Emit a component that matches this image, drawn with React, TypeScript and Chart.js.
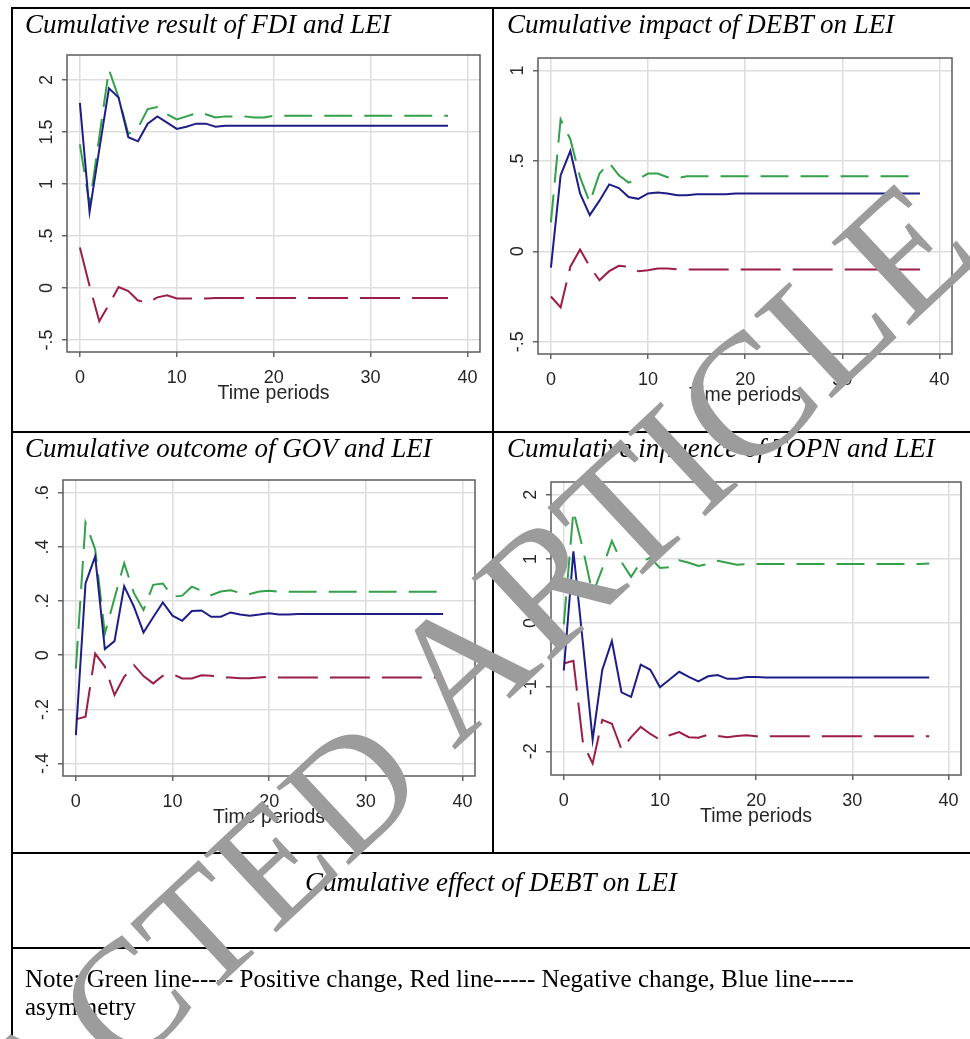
import React, { useEffect, useRef } from 'react';
import { Chart, registerables } from 'chart.js';

Chart.register(...registerables);

// ---------------- data ----------------
const periods = [0, 1, 2, 3, 4, 5, 6, 7, 8, 9, 10, 11, 12, 13, 14, 15, 16, 17, 18, 19, 20, 21, 22, 23, 24, 25, 26, 27, 28, 29, 30, 31, 32, 33, 34, 35, 36, 37, 38];
const xTickValues = [0, 10, 20, 30, 40];

// FDI and LEI
const fdiAsym = [1.78, 0.73, 1.33, 1.92, 1.83, 1.45, 1.41, 1.58, 1.65, 1.59, 1.53, 1.55, 1.58, 1.58, 1.55, 1.56, 1.56, 1.56, 1.56, 1.56, 1.56, 1.56, 1.56, 1.56, 1.56, 1.56, 1.56, 1.56, 1.56, 1.56, 1.56, 1.56, 1.56, 1.56, 1.56, 1.56, 1.56, 1.56, 1.56];
const fdiPos = [1.38, 0.8, 1.45, 2.1, 1.83, 1.48, 1.54, 1.72, 1.74, 1.67, 1.62, 1.65, 1.68, 1.67, 1.64, 1.65, 1.65, 1.65, 1.64, 1.64, 1.655, 1.655, 1.655, 1.655, 1.655, 1.655, 1.655, 1.655, 1.655, 1.655, 1.655, 1.655, 1.655, 1.655, 1.655, 1.655, 1.655, 1.655, 1.655];
const fdiNeg = [0.39, 0.02, -0.32, -0.16, 0.01, -0.03, -0.12, -0.14, -0.09, -0.07, -0.1, -0.1, -0.1, -0.1, -0.095, -0.095, -0.095, -0.095, -0.095, -0.095, -0.095, -0.095, -0.095, -0.095, -0.095, -0.095, -0.095, -0.095, -0.095, -0.095, -0.095, -0.095, -0.095, -0.095, -0.095, -0.095, -0.095, -0.095, -0.095];
const fdiYTicks = [-0.5, 0, 0.5, 1, 1.5, 2];

// DEBT on LEI
const debtAsym = [-0.09, 0.42, 0.555, 0.32, 0.2, 0.28, 0.37, 0.35, 0.3, 0.29, 0.32, 0.325, 0.32, 0.31, 0.31, 0.315, 0.315, 0.315, 0.315, 0.32, 0.32, 0.32, 0.32, 0.32, 0.32, 0.32, 0.32, 0.32, 0.32, 0.32, 0.32, 0.32, 0.32, 0.32, 0.32, 0.32, 0.32, 0.32, 0.32];
const debtPos = [0.16, 0.73, 0.62, 0.41, 0.27, 0.43, 0.49, 0.42, 0.38, 0.4, 0.43, 0.43, 0.41, 0.405, 0.415, 0.415, 0.415, 0.415, 0.415, 0.415, 0.415, 0.415, 0.415, 0.415, 0.415, 0.415, 0.415, 0.415, 0.415, 0.415, 0.415, 0.415, 0.415, 0.415, 0.415, 0.415, 0.415, 0.415, 0.415];
const debtNeg = [-0.25, -0.31, -0.085, 0.01, -0.085, -0.16, -0.11, -0.08, -0.085, -0.11, -0.105, -0.095, -0.095, -0.1, -0.1, -0.1, -0.1, -0.1, -0.1, -0.1, -0.1, -0.1, -0.1, -0.1, -0.1, -0.1, -0.1, -0.1, -0.1, -0.1, -0.1, -0.1, -0.1, -0.1, -0.1, -0.1, -0.1, -0.1, -0.1];
const debtYTicks = [-0.5, 0, 0.5, 1];

// GOV and LEI
const govAsym = [-0.295, 0.265, 0.365, 0.023, 0.052, 0.255, 0.18, 0.084, 0.14, 0.195, 0.146, 0.127, 0.163, 0.165, 0.142, 0.142, 0.158, 0.15, 0.146, 0.15, 0.155, 0.15, 0.15, 0.152, 0.152, 0.152, 0.152, 0.152, 0.152, 0.152, 0.152, 0.152, 0.152, 0.152, 0.152, 0.152, 0.152, 0.152, 0.152];
const govPos = [-0.05, 0.49, 0.39, 0.08, 0.21, 0.34, 0.23, 0.167, 0.26, 0.265, 0.216, 0.22, 0.253, 0.238, 0.222, 0.235, 0.24, 0.23, 0.226, 0.235, 0.238, 0.234, 0.234, 0.234, 0.234, 0.234, 0.234, 0.234, 0.234, 0.234, 0.234, 0.234, 0.234, 0.234, 0.234, 0.234, 0.234, 0.234, 0.234];
const govNeg = [-0.237, -0.227, 0.006, -0.042, -0.147, -0.08, -0.036, -0.077, -0.104, -0.076, -0.07, -0.086, -0.086, -0.074, -0.076, -0.082, -0.082, -0.085, -0.085, -0.082, -0.08, -0.082, -0.082, -0.082, -0.082, -0.082, -0.082, -0.082, -0.082, -0.082, -0.082, -0.082, -0.082, -0.082, -0.082, -0.082, -0.082, -0.082, -0.082];
const govYTicks = [-0.4, -0.2, 0, 0.2, 0.4, 0.6];

// TOPN and LEI
const topnAsym = [-0.74, 1.12, -0.33, -1.82, -0.73, -0.28, -1.08, -1.15, -0.65, -0.73, -1.0, -0.88, -0.76, -0.84, -0.91, -0.83, -0.81, -0.87, -0.87, -0.84, -0.84, -0.85, -0.85, -0.85, -0.85, -0.85, -0.85, -0.85, -0.85, -0.85, -0.85, -0.85, -0.85, -0.85, -0.85, -0.85, -0.85, -0.85, -0.85];
const topnPos = [-0.02, 1.75, 1.15, 0.45, 0.85, 1.28, 0.95, 0.72, 0.95, 1.02, 0.86, 0.87, 0.98, 0.94, 0.89, 0.92, 0.97, 0.94, 0.91, 0.92, 0.92, 0.92, 0.92, 0.92, 0.92, 0.92, 0.92, 0.92, 0.92, 0.92, 0.92, 0.92, 0.92, 0.92, 0.92, 0.92, 0.92, 0.92, 0.93];
const topnNeg = [-0.63, -0.59, -1.88, -2.19, -1.51, -1.57, -1.97, -1.78, -1.62, -1.73, -1.82, -1.75, -1.7, -1.78, -1.79, -1.74, -1.76, -1.78, -1.76, -1.75, -1.765, -1.765, -1.765, -1.765, -1.765, -1.765, -1.765, -1.765, -1.765, -1.765, -1.765, -1.765, -1.765, -1.765, -1.765, -1.765, -1.765, -1.765, -1.765];
const topnYTicks = [-2, -1, 0, 1, 2];

const panelTitles = [
  'Cumulative result of FDI and LEI',
  'Cumulative impact of DEBT on LEI',
  'Cumulative outcome of GOV and LEI',
  'Cumulative influence of TOPN and LEI',
];
const captionText = 'Cumulative effect of DEBT on LEI';
const noteLine1 = 'Note: Green line----- Positive change, Red line----- Negative change, Blue line-----';
const noteLine2 = 'asymmetry';
const xAxisTitle = 'Time periods';
const watermarkWord1 = 'RETRACTED';
const watermarkWord2 = 'ARTICLE';

// ---------------- styles ----------------
const BLUE = '#1e1e86';
const GREEN = '#33a04a';
const RED = '#9c1d4b';
const GRID = '#dedede';
const FRAME = '#5c5c5c';
const TICKC = '#666666';
const TEXTC = '#262626';
const TICK_LEN = 5;
const SANS = '"Liberation Sans", Arial, Helvetica, sans-serif';
const SERIF = "'Liberation Serif', 'Times New Roman', Times, serif";

type Box = { x: number; y: number; w: number; h: number };
type Plot = { l: number; t: number; r: number; b: number };
type Panel = {
  asym: number[];
  pos: number[];
  neg: number[];
  yMin: number;
  yMax: number;
  yTicks: number[];
  canvas: Box;
  plot: Plot;
};

const panels: Panel[] = [
  { asym: fdiAsym, pos: fdiPos, neg: fdiNeg, yMin: -0.615, yMax: 2.24, yTicks: fdiYTicks,
    canvas: { x: 14, y: 40, w: 478, h: 390 }, plot: { l: 67, t: 55, r: 480, b: 352 } },
  { asym: debtAsym, pos: debtPos, neg: debtNeg, yMin: -0.568, yMax: 1.069, yTicks: debtYTicks,
    canvas: { x: 495, y: 40, w: 475, h: 390 }, plot: { l: 538, t: 58, r: 952, b: 354 } },
  { asym: govAsym, pos: govPos, neg: govNeg, yMin: -0.446, yMax: 0.647, yTicks: govYTicks,
    canvas: { x: 14, y: 465, w: 478, h: 386 }, plot: { l: 63, t: 480, r: 475, b: 776 } },
  { asym: topnAsym, pos: topnPos, neg: topnNeg, yMin: -2.37, yMax: 2.2, yTicks: topnYTicks,
    canvas: { x: 495, y: 465, w: 475, h: 386 }, plot: { l: 551, t: 482, r: 961, b: 775 } },
];

const fmtY = (v: number) => String(v).replace(/^(-?)0\./, '$1.');

const stataPlugin = {
  id: 'stataLook',
  beforeDatasetsDraw(chart: any) {
    const { ctx, chartArea: a } = chart;
    ctx.save();
    ctx.strokeStyle = FRAME;
    ctx.lineWidth = 1.5;
    ctx.strokeRect(a.left, a.top, a.right - a.left, a.bottom - a.top);
    ctx.restore();
  },
  afterDraw(chart: any) {
    const { ctx, chartArea: a, scales } = chart;
    ctx.save();
    ctx.fillStyle = TEXTC;
    ctx.textAlign = 'center';
    ctx.textBaseline = 'alphabetic';
    ctx.font = `18px ${SANS}`;
    scales.x.ticks.forEach((t: any) => {
      ctx.fillText(String(t.value), scales.x.getPixelForValue(t.value), a.bottom + 31);
    });
    ctx.font = `19.5px ${SANS}`;
    ctx.fillText(xAxisTitle, (a.left + a.right) / 2, a.bottom + 47);
    ctx.font = `18px ${SANS}`;
    scales.y.ticks.forEach((t: any) => {
      const y = scales.y.getPixelForValue(t.value);
      ctx.save();
      ctx.translate(a.left - 15.5, y);
      ctx.rotate(-Math.PI / 2);
      ctx.fillText(fmtY(t.value), 0, 0);
      ctx.restore();
    });
    ctx.restore();
  },
};

function ImpulseChart({ panel }: { panel: Panel }) {
  const ref = useRef<HTMLCanvasElement | null>(null);
  useEffect(() => {
    if (!ref.current) return;
    const { canvas: c, plot: p } = panel;
    const toPts = (vals: number[]) => periods.map((x, i) => ({ x, y: vals[i] }));
    const gridOpts = {
      color: GRID,
      lineWidth: 1.5,
      drawTicks: true,
      tickLength: TICK_LEN,
      tickColor: TICKC,
      tickWidth: 1.5,
    };
    const chart = new Chart(ref.current, {
      type: 'line',
      data: {
        datasets: [
          { data: toPts(panel.asym), borderColor: BLUE, borderWidth: 2, pointRadius: 0, tension: 0, fill: false },
          { data: toPts(panel.pos), borderColor: GREEN, borderWidth: 2, borderDash: [28, 12], pointRadius: 0, tension: 0, fill: false },
          { data: toPts(panel.neg), borderColor: RED, borderWidth: 2, borderDash: [40, 12], pointRadius: 0, tension: 0, fill: false },
        ],
      },
      options: {
        animation: false,
        responsive: false,
        maintainAspectRatio: false,
        events: [],
        layout: {
          padding: {
            left: p.l - c.x - TICK_LEN,
            top: p.t - c.y,
            right: c.x + c.w - p.r,
            bottom: c.y + c.h - p.b - TICK_LEN,
          },
        },
        plugins: { legend: { display: false }, tooltip: { enabled: false } },
        scales: {
          x: {
            type: 'linear',
            min: -1.33,
            max: 41.3,
            afterBuildTicks: (ax: any) => { ax.ticks = xTickValues.map((v) => ({ value: v })); },
            ticks: { display: false },
            grid: gridOpts,
            border: { display: false },
          },
          y: {
            type: 'linear',
            min: panel.yMin,
            max: panel.yMax,
            afterBuildTicks: (ax: any) => { ax.ticks = panel.yTicks.map((v) => ({ value: v })); },
            ticks: { display: false },
            grid: gridOpts,
            border: { display: false },
          },
        },
      } as any,
      plugins: [stataPlugin],
    });
    return () => chart.destroy();
  }, [panel]);
  const { canvas: c } = panel;
  return (
    <canvas
      ref={ref}
      width={c.w}
      height={c.h}
      style={{ position: 'absolute', left: c.x, top: c.y, width: c.w, height: c.h }}
    />
  );
}

const titlePos = [
  { x: 25, y: 33 },
  { x: 507, y: 33 },
  { x: 25, y: 457 },
  { x: 507, y: 457 },
];

const WM_ANGLE = -43;
const WM1 = { x: 430.8, y: 788.5, size: 162 };
const WM2 = { x: 453.7, y: 750.7, size: 174 };

export default function App() {
  return (
    <div
      style={{
        position: 'absolute',
        left: 0,
        top: 0,
        width: 970,
        height: 1039,
        background: '#ffffff',
        overflow: 'hidden',
      }}
    >
      {panels.map((p, i) => (
        <ImpulseChart key={i} panel={p} />
      ))}
      <svg
        width={970}
        height={1039}
        style={{ position: 'absolute', left: 0, top: 0, pointerEvents: 'none' }}
      >
        {/* table rules */}
        <rect x={11} y={7} width={959} height={2} fill="#000" />
        <rect x={11} y={7} width={2} height={1032} fill="#000" />
        <rect x={492} y={7} width={2} height={847} fill="#000" />
        <rect x={11} y={431} width={959} height={2} fill="#000" />
        <rect x={11} y={852} width={959} height={2} fill="#000" />
        <rect x={11} y={947} width={959} height={2} fill="#000" />
        {panelTitles.map((t, i) => (
          <text
            key={i}
            x={titlePos[i].x}
            y={titlePos[i].y}
            fontFamily={SERIF}
            fontStyle="italic"
            fontSize={27}
            fill="#000"
          >
            {t}
          </text>
        ))}
        <text x={491} y={891} textAnchor="middle" fontFamily={SERIF} fontStyle="italic" fontSize={27} fill="#000">
          {captionText}
        </text>
        <text x={25} y={987} fontFamily={SERIF} fontSize={25} fill="#000">
          {noteLine1}
        </text>
        <text x={25} y={1015} fontFamily={SERIF} fontSize={25} fill="#000">
          {noteLine2}
        </text>
        {/* watermark */}
        <text
          x={WM1.x}
          y={WM1.y}
          textAnchor="end"
          transform={`rotate(${WM_ANGLE} ${WM1.x} ${WM1.y})`}
          fontFamily={SERIF}
          fontSize={WM1.size}
          fill="#9c9c9c"
        >
          {watermarkWord1}
        </text>
        <text
          x={WM2.x}
          y={WM2.y}
          textAnchor="start"
          transform={`rotate(${WM_ANGLE} ${WM2.x} ${WM2.y})`}
          fontFamily={SERIF}
          fontSize={WM2.size}
          fill="#9c9c9c"
        >
          {watermarkWord2}
        </text>
      </svg>
    </div>
  );
}
